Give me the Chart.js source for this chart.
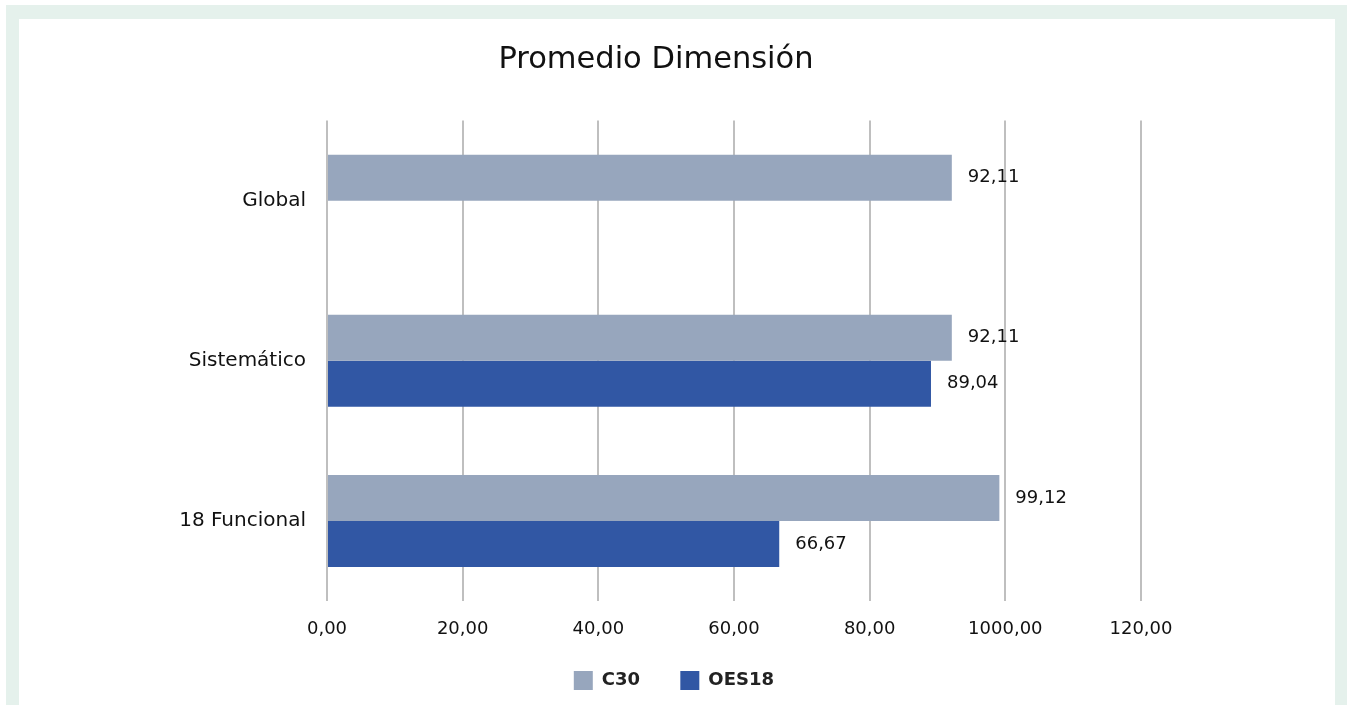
<!DOCTYPE html>
<html>
<head>
<meta charset="utf-8">
<script src="https://cdn.jsdelivr.net/npm/chart.js@4.4.1/dist/chart.umd.min.js"></script>
<style>
    html, body { margin: 0; padding: 0; background: #ffffff; overflow: hidden; }
    .frame {
        position: absolute; left: 6px; top: 5px; width: 1341px; height: 700px;
        background: #e5f1ec;
    }
    .panel {
        position: absolute; left: 13px; top: 14px; width: 1316px; height: 686px;
        background: #ffffff;
    }
    canvas { display: block; }
</style>
</head>
<body>
<div class="frame">
    <div class="panel">
        <canvas id="dimChart" width="1316" height="686"></canvas>
    </div>
</div>
<script>
// ===== DATA =====
const categories = ['Global', 'Sistemático', '18 Funcional'];
const c30Values = [92.11, 92.11, 99.12];
const oes18Values = [null, 89.04, 66.67];
const xTickLabels = ['0,00', '20,00', '40,00', '60,00', '80,00', '1000,00', '120,00'];

const FONT = "'DejaVu Sans', sans-serif";

// value labels at the end of each bar
const barLabels = {
    id: 'barLabels',
    afterLayout(chart) {
        // title sits a little left of the panel centre in the original
        if (chart.titleBlock) chart.titleBlock.right -= 42;
    },
    afterDatasetsDraw(chart) {
        const ctx = chart.ctx;
        ctx.save();
        ctx.font = '18px ' + FONT;
        ctx.fillStyle = '#111111';
        ctx.textAlign = 'left';
        ctx.textBaseline = 'middle';
        chart.data.datasets.forEach((ds, i) => {
            chart.getDatasetMeta(i).data.forEach((bar, j) => {
                const v = ds.data[j];
                if (v == null) return;
                ctx.fillText(v.toFixed(2).replace('.', ','), bar.x + 16, bar.y);
            });
        });
        ctx.restore();
    }
};

new Chart(document.getElementById('dimChart'), {
    type: 'bar',
    data: {
        labels: categories,
        datasets: [
            {
                label: 'C30 ',
                data: c30Values,
                backgroundColor: '#97a6bd',
                barPercentage: 1,
                categoryPercentage: 0.575
            },
            {
                label: 'OES18 ',
                data: oes18Values,
                backgroundColor: '#3157a4',
                barPercentage: 1,
                categoryPercentage: 0.575
            }
        ]
    },
    options: {
        indexAxis: 'y',
        responsive: false,
        animation: false,
        layout: { padding: { top: 0, right: 0, bottom: 5, left: 0 } },
        plugins: {
            title: {
                display: true,
                text: 'Promedio Dimensión',
                color: '#111111',
                font: { family: FONT, size: 30.5, weight: 'normal' },
                padding: { top: 23, bottom: 42 }
            },
            legend: {
                position: 'bottom',
                labels: {
                    color: '#222222',
                    boxWidth: 19,
                    boxHeight: 19,
                    padding: 34,
                    font: { family: FONT, size: 18, weight: 'bold' }
                }
            },
            tooltip: { enabled: false }
        },
        scales: {
            x: {
                min: 0, max: 120,
                ticks: {
                    stepSize: 20,
                    color: '#111111',
                    padding: 18,
                    font: { family: FONT, size: 18 },
                    callback: (val, idx) => xTickLabels[idx]
                },
                grid: { color: '#bfbfbf', lineWidth: 2, drawTicks: false },
                border: { display: false },
                afterFit: (axis) => { axis.height = 36; }
            },
            y: {
                ticks: {
                    color: '#111111',
                    padding: 21,
                    font: { family: FONT, size: 20 }
                },
                grid: { display: false, drawTicks: false },
                border: { display: false },
                afterFit: (axis) => { axis.width = 308; }
            },
            // empty right-hand space, keeps the legend centred on the whole panel
            yRight: {
                type: 'linear',
                axis: 'y',
                position: 'right',
                ticks: { display: false },
                grid: { display: false, drawTicks: false },
                border: { display: false },
                afterFit: (axis) => { axis.width = 194; }
            }
        }
    },
    plugins: [barLabels]
});
</script>
</body>
</html>
